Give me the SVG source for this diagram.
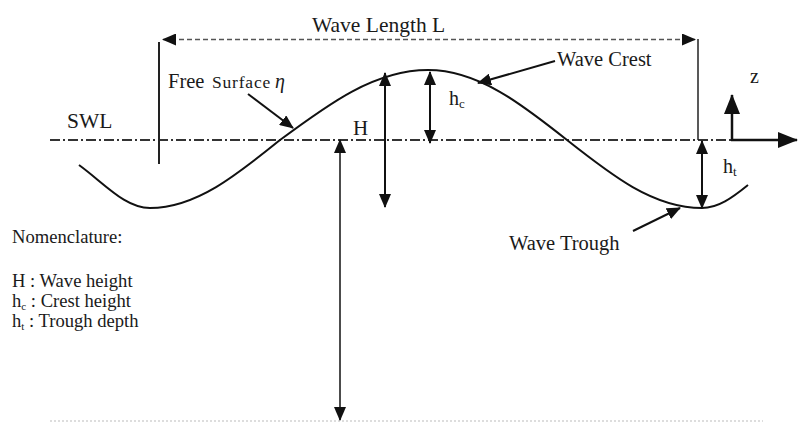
<svg xmlns="http://www.w3.org/2000/svg" width="807" height="423" viewBox="0 0 807 423">
<style>
text{font-family:"Liberation Serif",Tinos,"Times New Roman","Noto Serif","DejaVu Serif",serif;fill:#1a1a1a;}
.sh{stroke:#111;stroke-width:2;fill:none;}
.thin{stroke:#111;stroke-width:1.5;fill:none;}
</style>
<defs>
<marker id="ah" viewBox="0 0 14 12" refX="13" refY="6" markerWidth="14" markerHeight="12" markerUnits="userSpaceOnUse" orient="auto-start-reverse"><path d="M0,0 L14,6 L0,12 z" fill="#111"/></marker>
<marker id="ahz" viewBox="0 0 20 16" refX="19" refY="8" markerWidth="20" markerHeight="16" markerUnits="userSpaceOnUse" orient="auto-start-reverse"><path d="M0,0 L20,8 L0,16 z" fill="#111"/></marker>
</defs>
<rect width="807" height="423" fill="#fff"/>

<g id="swl-line">
<line x1="50" y1="140" x2="785" y2="140" stroke="#333" stroke-width="2" stroke-dasharray="10 3 2 3"/>
</g>
<g id="seabed">
<line x1="50" y1="421" x2="763" y2="421" stroke="#bbb" stroke-width="1.2" stroke-dasharray="2 2"/>
</g>
<g id="wave">
<path class="sh" d="M79,165 C105,184 125,208 150,208 C196,208 237,174.8 280,140 C328.3,104.1 374.4,70 428,70 C478.3,70 521.7,104.1 567,140 C611,174.8 653.1,208 702,208 C718,208 732,198 748,185"/>
</g>

<g id="connectors">
<line x1="159" y1="42" x2="159" y2="164" stroke="#222" stroke-width="2"/>
<line x1="698" y1="39" x2="698" y2="140" stroke="#222" stroke-width="1.5"/>
<line x1="163" y1="39.5" x2="695" y2="39.5" stroke="#555" stroke-width="1.5" stroke-dasharray="5 3" marker-start="url(#ah)" marker-end="url(#ah)"/>
<line class="sh" x1="248" y1="94" x2="293" y2="128" marker-end="url(#ah)"/>
<line class="sh" x1="555" y1="61" x2="478" y2="83" marker-end="url(#ah)"/>
<line class="sh" x1="633" y1="231" x2="680" y2="208" marker-end="url(#ah)"/>
<line class="sh" x1="385" y1="73" x2="385" y2="207" marker-start="url(#ah)" marker-end="url(#ah)"/>
<line class="sh" x1="430" y1="72" x2="430" y2="143" marker-start="url(#ah)" marker-end="url(#ah)"/>
<line class="sh" x1="702" y1="141" x2="702" y2="208" marker-start="url(#ah)" marker-end="url(#ah)"/>
<line class="thin" x1="340" y1="140" x2="340" y2="420" marker-start="url(#ah)" marker-end="url(#ah)"/>
<line x1="732" y1="141" x2="732" y2="95" stroke="#111" stroke-width="2.5" marker-end="url(#ahz)"/>
<line x1="731" y1="140" x2="797" y2="140" stroke="#111" stroke-width="2.5" marker-end="url(#ahz)"/>
</g>

<g id="labels">
<g id="label-wavelength"><text x="312" y="32" font-size="21.5">Wave Length L</text></g>
<g id="label-free-surface"><text x="168" y="88" font-size="20.5">Free<tspan x="212" font-size="17.5" letter-spacing="0.8">Surface</tspan><tspan x="275" font-style="italic" font-size="20">η</tspan></text></g>
<g id="label-swl"><text x="67" y="128" font-size="21.5">SWL</text></g>
<g id="label-H"><text x="353" y="135" font-size="21">H</text></g>
<g id="label-hc"><text x="449" y="105" font-size="20">h<tspan font-size="13" dy="3">c</tspan></text></g>
<g id="label-crest"><text x="557" y="66" font-size="20.5">Wave Crest</text></g>
<g id="label-z"><text x="750" y="83" font-size="20">z</text></g>
<g id="label-ht"><text x="723" y="173" font-size="20">h<tspan font-size="13" dy="3">t</tspan></text></g>
<g id="label-trough"><text x="509" y="250" font-size="20.5">Wave Trough</text></g>
<g id="nomenclature">
<text x="12" y="243" font-size="18.6">Nomenclature:</text>
<text x="12" y="287" font-size="18.6">H : Wave height</text>
<text x="12" y="307" font-size="18.6">h<tspan font-size="11" dy="3">c</tspan><tspan dy="-3"> : Crest height</tspan></text>
<text x="12" y="327" font-size="18.6">h<tspan font-size="11" dy="3">t</tspan><tspan dy="-3"> : Trough depth</tspan></text>
</g>
</g>
</svg>
